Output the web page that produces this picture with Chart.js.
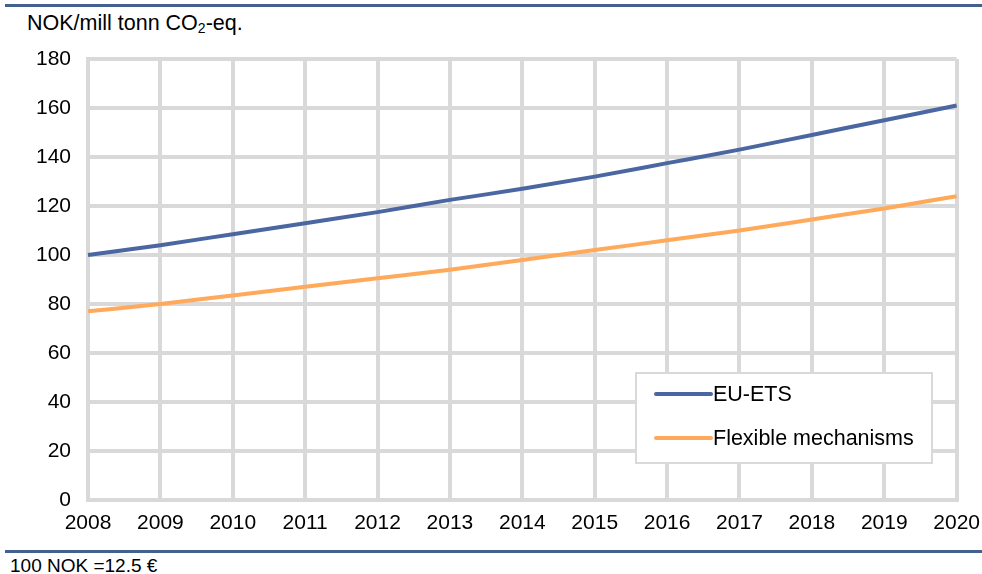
<!DOCTYPE html>
<html lang="en">
<head>
    <meta charset="UTF-8">
    <title>NOK/mill tonn CO2-eq.</title>
    <style>
        body {
            margin: 0;
            padding: 0;
            width: 982px;
            height: 574px;
            position: relative;
            background: #fff;
            font-family: "Liberation Sans", Arial, sans-serif;
            color: #000;
            overflow: hidden;
        }
        .rule {
            position: absolute;
            left: 5px;
            right: 0;
            height: 3px;
            background-color: #44608f;
        }
        .title {
            position: absolute;
            left: 27px;
            top: 11px;
            font-size: 21.5px;
        }
        .title sub {
            font-size: 14px;
            vertical-align: -3px;
            line-height: 0;
        }
        .chart-box {
            position: absolute;
            left: 0;
            top: 0;
            width: 991px;
            height: 546px;
        }
        .footer {
            position: absolute;
            left: 10px;
            top: 555px;
            font-size: 19px;
        }
    </style>
</head>
<body>
    <div class="rule" style="top: 4px;"></div>
    <div class="title">NOK/mill tonn CO<sub>2</sub>-eq.</div>
    <div class="chart-box"><canvas id="priceChart"></canvas></div>
    <div class="rule" style="top: 550px;"></div>
    <div class="footer">100 NOK =12.5 €</div>

    <script src="https://cdn.jsdelivr.net/npm/chart.js"></script>
    <script>
        // Years on the x axis
        const years = ['2008', '2009', '2010', '2011', '2012', '2013', '2014', '2015', '2016', '2017', '2018', '2019', '2020'];

        // Series values
        const euEts = [100, 104, 108.5, 113, 117.5, 122.5, 127, 132, 137.5, 143, 149, 155, 161];
        const flexible = [77, 80, 83.5, 87, 90.5, 94, 98, 102, 106, 110, 114.5, 119, 124];

        const seriesLabels = ['EU-ETS', 'Flexible mechanisms'];
        const seriesColors = ['#4a67a1', '#ffa95a'];

        const gridColor = '#d9d9d9';
        const fontSpec = { family: '"Liberation Sans", Arial, sans-serif', size: 21 };

        // Legend drawn as a framed box inside the plot, like the original
        const boxLegend = {
            id: 'boxLegend',
            afterDatasetsDraw(chart) {
                const ctx = chart.ctx;
                const x = 636, y = 373, w = 296, h = 90;
                ctx.save();
                ctx.fillStyle = '#fff';
                ctx.fillRect(x, y, w, h);
                ctx.strokeStyle = gridColor;
                ctx.lineWidth = 2;
                ctx.strokeRect(x, y, w, h);
                ctx.font = '21.5px "Liberation Sans", Arial, sans-serif';
                ctx.textBaseline = 'middle';
                chart.data.datasets.forEach((ds, i) => {
                    const ly = y + 21 + i * 44;
                    ctx.strokeStyle = ds.borderColor;
                    ctx.lineWidth = 4;
                    ctx.lineCap = 'round';
                    ctx.beginPath();
                    ctx.moveTo(x + 20, ly);
                    ctx.lineTo(x + 75, ly);
                    ctx.stroke();
                    ctx.fillStyle = '#000';
                    ctx.fillText(ds.label, x + 77, ly + 1);
                });
                ctx.restore();
            }
        };

        const priceChart = new Chart(document.getElementById('priceChart'), {
            type: 'line',
            data: {
                labels: years,
                datasets: [{
                    label: seriesLabels[0],
                    data: euEts,
                    borderColor: seriesColors[0],
                    backgroundColor: seriesColors[0],
                    borderWidth: 4,
                    pointRadius: 0,
                    cubicInterpolationMode: 'monotone',
                    fill: false
                }, {
                    label: seriesLabels[1],
                    data: flexible,
                    borderColor: seriesColors[1],
                    backgroundColor: seriesColors[1],
                    borderWidth: 4,
                    pointRadius: 0,
                    cubicInterpolationMode: 'monotone',
                    fill: false
                }]
            },
            options: {
                responsive: true,
                maintainAspectRatio: false,
                animation: false,
                layout: {
                    padding: { top: 59, right: 0, left: 0, bottom: 0 }
                },
                plugins: {
                    legend: { display: false },
                    tooltip: { enabled: false }
                },
                scales: {
                    x: {
                        grid: { color: gridColor, lineWidth: 4, drawTicks: false },
                        border: { color: gridColor, width: 4 },
                        ticks: { color: '#000', font: fontSpec, padding: 11, maxRotation: 0 },
                        afterFit(scale) { scale.height = 46; }
                    },
                    y: {
                        min: 0,
                        max: 180,
                        grid: { color: gridColor, lineWidth: 4, drawTicks: false },
                        border: { color: gridColor, width: 4 },
                        ticks: { color: '#000', font: fontSpec, stepSize: 20, padding: 17 },
                        afterFit(scale) { scale.width = 88; }
                    }
                }
            },
            plugins: [boxLegend]
        });
    </script>
</body>
</html>
